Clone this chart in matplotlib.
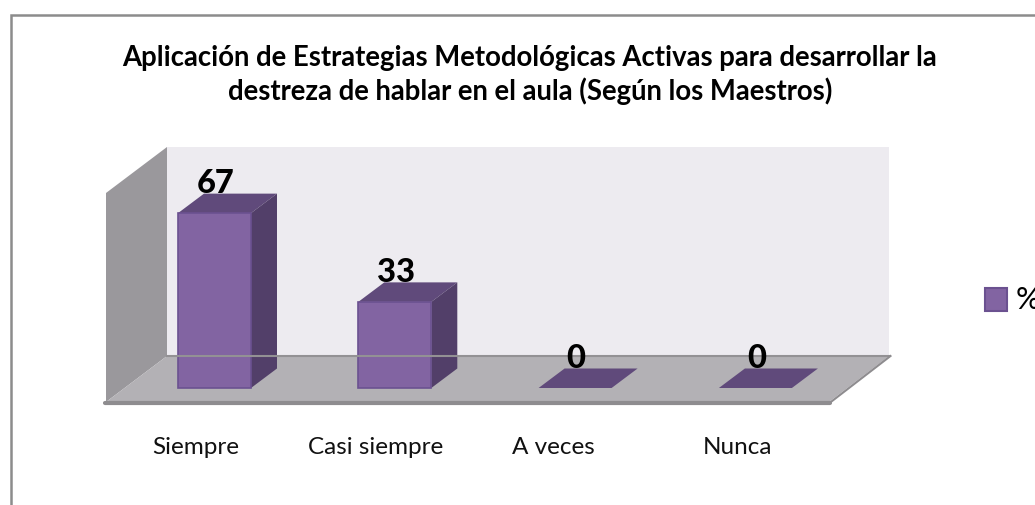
import matplotlib
matplotlib.use("Agg")
import matplotlib.pyplot as plt
from matplotlib.patches import Polygon, Rectangle

plt.rcParams['font.family'] = ['Lato', 'DejaVu Sans']

categories = ["Siempre", "Casi siempre", "A veces", "Nunca"]
values = [67, 33, 0, 0]
series_name = "%"
title = ("Aplicación de Estrategias Metodológicas Activas para desarrollar la\n"
         "destreza de hablar en el aula (Según los Maestros)")

W, H = 1035, 505
PX_PER_CAT = 180.3
PX_PER_VAL = 2.61
X0_PX = 214.5   # centre of first bar
Y0_PX = 388     # baseline of bars

FRONT = "#8264a2"
TOP = "#604a7b"
SIDE = "#523f69"
EDGE = "#6b5190"


def px(x):
    return (x - X0_PX) / PX_PER_CAT


def py(y):
    return (Y0_PX - y) / PX_PER_VAL


fig = plt.figure(figsize=(W / 100, H / 100), dpi=100)
ax = fig.add_axes([0, 0, 1, 1])
ax.set_xlim(px(0), px(W))
ax.set_ylim(py(H), py(0))
ax.axis('off')


def poly(points, **kw):
    ax.add_patch(Polygon([(px(a), py(b)) for a, b in points], closed=True, **kw))


# outer frame, open on the bottom and right
ax.plot([px(11), px(11), px(W)], [py(H), py(15.3), py(15.3)], color="#8c8c8c", lw=1.8,
        solid_joinstyle='miter', clip_on=False)

# walls and floor
poly([(167, 147), (889, 147), (889, 356), (167, 356)], fc="#edebf0", ec="none")
poly([(106, 193), (167, 147), (167, 356), (106, 402)], fc="#9a989c", ec="none")
poly([(106, 402), (167, 356), (889, 356), (829, 402)], fc="#b3b1b5", ec="none")
ax.plot([px(167), px(889)], [py(356), py(356)], color="#939194", lw=1.5)
ax.plot([px(829.5), px(890.5)], [py(403), py(356)], color="#8e8c8f", lw=1.5)
ax.plot([px(105), px(830)], [py(403), py(403)], color="#8e8c8f", lw=3, solid_capstyle='round')

# bars, depth offset is fixed in pixels
half = 36.5 / PX_PER_CAT
dx = 26 / PX_PER_CAT
dy = 19.5 / PX_PER_VAL
for i, v in enumerate(values):
    l, r = i - half, i + half
    ax.add_patch(Polygon([(l, v), (r, v), (r + dx, v + dy), (l + dx, v + dy)], fc=TOP, ec="none"))
    if v > 0:
        ax.add_patch(Polygon([(r, 0), (r + dx, dy), (r + dx, v + dy), (r, v)], fc=SIDE, ec="none"))
        ax.bar(i, v, width=2 * half, color=FRONT, edgecolor=EDGE, linewidth=1.2)
    ax.text(i + 0.005, v + 7.8, str(v), ha='center', va='baseline', fontsize=23.5,
            fontweight='black', color="black")

# labels sit a little left of the bar centres
label_shift = [-0.103, -0.105, -0.122, -0.1]
for i, c in enumerate(categories):
    ax.text(i + label_shift[i], py(454.5), c, ha='center', va='baseline',
            fontsize=17.5, color="#111111")

ax.text(px(530), py(75), title, ha='center', va='center', fontsize=19.8, fontweight='bold',
        color="black", linespacing=1.25)

# legend, the % runs off the right edge as in the source image
ax.add_patch(Rectangle((px(985), py(311)), 22 / PX_PER_CAT, 23 / PX_PER_VAL, fc=FRONT, ec=EDGE, lw=1.5))
ax.text(px(1016), py(309), series_name, ha='left', va='baseline', fontsize=22, color="black",
        clip_on=True)

fig.savefig("out.png", dpi=100, facecolor="white")
